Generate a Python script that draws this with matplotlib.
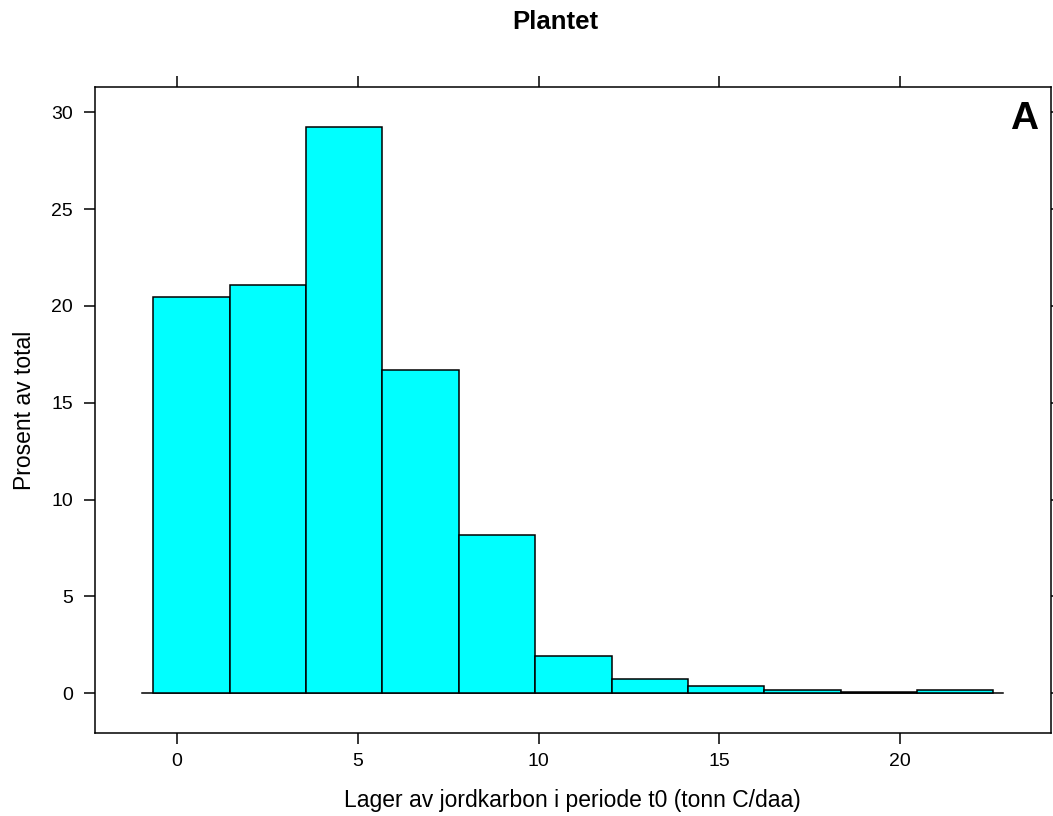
import numpy as np
import matplotlib
matplotlib.use("Agg")
import matplotlib.pyplot as plt

plt.rcParams['font.family'] = ['Liberation Sans', 'DejaVu Sans']

# Histogram of soil carbon stock (percent of total per bin)
bin_edges = [-0.66, 1.45, 3.57, 5.68, 7.79, 9.91, 12.02, 14.13, 16.24, 18.36, 20.47, 22.58]
percent = [20.46, 21.06, 29.25, 16.68, 8.19, 1.93, 0.74, 0.39, 0.17, 0.07, 0.17]
x_ticks = [0, 5, 10, 15, 20]
y_ticks = [0, 5, 10, 15, 20, 25, 30]

title = "Plantet"
xlabel = "Lager av jordkarbon i periode t0 (tonn C/daa)"
ylabel = "Prosent av total"
panel_tag = "A"

W, H = 1053, 816
fig = plt.figure(figsize=(W / 100, H / 100), dpi=100)
left, right, top, bottom = 94.7, 1051, 86.7, 733.3
ax = fig.add_axes([left / W, 1 - bottom / H, (right - left) / W, (bottom - top) / H])

edges = np.array(bin_edges)
ax.bar(edges[:-1], percent, width=np.diff(edges), align='edge',
       color='#00FFFF', edgecolor='black', linewidth=1.1, zorder=2)
ax.plot([-0.97, 22.86], [0, 0], color='black', linewidth=1.1, zorder=1)

ax.set_xlim(-2.28, 24.18)
ax.set_ylim(-2.07, 31.32)
ax.set_xticks(x_ticks)
ax.set_yticks(y_ticks)
ax.tick_params(direction='out', length=8.2, width=1.1, top=True, right=True,
               labeltop=False, labelright=False, labelsize=14, colors='black')
ax.tick_params(axis='x', pad=6.0)
ax.tick_params(axis='y', pad=7.5)
for s in ax.spines.values():
    s.set_linewidth(1.1)

fig.text((left + right) / 2 / W, 1 - 800 / H, xlabel, ha='center', va='center', fontsize=16.5)
fig.text(25 / W, 1 - (top + bottom) / 2 / H, ylabel, ha='center', va='center',
         rotation=90, fontsize=16.5)
fig.text(1038.3 / W, 1 - 129 / H, panel_tag, ha='right', va='baseline',
         fontsize=28, fontweight='bold')
fig.text(555 / W, 1 - 29.3 / H, title, ha='center', va='baseline',
         fontsize=18.5, fontweight='bold')

fig.savefig("out.png", dpi=100)
